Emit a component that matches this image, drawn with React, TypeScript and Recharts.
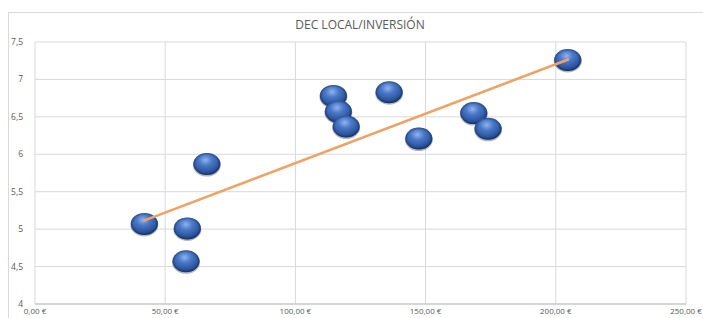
import { CartesianGrid, Scatter, ScatterChart, XAxis, YAxis } from "recharts";

const inversion = [42, 58.5, 58, 66, 114.6, 116.5, 119.5, 136, 147.4, 168.5, 174, 204.6];
const decLocal = [5.07, 5.01, 4.57, 5.87, 6.78, 6.57, 6.37, 6.83, 6.21, 6.55, 6.34, 7.26];
const trendX = [41.6, 205];
const trendY = [5.11, 7.27];
const xTicks = [0, 50, 100, 150, 200, 250];
const yTicks = [4, 4.5, 5, 5.5, 6, 6.5, 7, 7.5];

const points = inversion.map((x, i) => ({ x, y: decLocal[i] }));
const trend = trendX.map((x, i) => ({ x, y: trendY[i] }));

const Sphere = (props: any) => {
  const { cx, cy } = props;
  if (cx == null || cy == null) return null;
  return (
    <g>
      <ellipse cx={cx} cy={cy + 1} rx={14} ry={11.5} fill="#1a2f5c" opacity={0.35} />
      <ellipse cx={cx} cy={cy} rx={13.5} ry={11} fill="url(#sphereFill)" />
      <ellipse cx={cx} cy={cy} rx={13.5} ry={11} fill="url(#sphereRim)" />
    </g>
  );
};

export default function App() {
  return (
    <div
      style={{
        position: "fixed",
        left: 0,
        top: 0,
        width: 703,
        height: 318,
        background: "#fff",
        fontFamily: "'Open Sans', sans-serif",
      }}
    >
      <div
        style={{
          position: "absolute",
          left: 8,
          top: 12,
          width: 720,
          height: 330,
          border: "1px solid #d9d9d9",
        }}
      />
      <div
        style={{
          position: "absolute",
          left: 0,
          top: 16,
          width: 720,
          textAlign: "center",
          fontSize: 12,
          color: "#595959",
        }}
      >
        DEC LOCAL/INVERSIÓN
      </div>
      <div style={{ position: "absolute", left: 0, top: 0 }}>
        <ScatterChart
          width={703}
          height={318}
          margin={{ top: 42, right: 17, bottom: 0, left: 0 }}
        >
          <defs>
            <radialGradient id="sphereFill" cx="45%" cy="32%" r="70%">
              <stop offset="0%" stopColor="#8fb4ee" />
              <stop offset="35%" stopColor="#4a78c8" />
              <stop offset="75%" stopColor="#2d569f" />
              <stop offset="100%" stopColor="#1c386e" />
            </radialGradient>
            <radialGradient id="sphereRim" cx="50%" cy="50%" r="50%">
              <stop offset="80%" stopColor="#000" stopOpacity={0} />
              <stop offset="100%" stopColor="#0f2040" stopOpacity={0.35} />
            </radialGradient>
          </defs>
          <CartesianGrid stroke="#d9d9d9" strokeWidth={1} />
          <XAxis
            type="number"
            dataKey="x"
            domain={[0, 250]}
            ticks={xTicks}
            height={14}
            tickLine={false}
            tickSize={0}
            axisLine={{ stroke: "#bfbfbf" }}
            tick={{ fill: "#595959", fontSize: 8 }}
            tickMargin={4}
            interval={0}
            tickFormatter={(v: number) => `${v.toFixed(2).replace(".", ",")} €`}
          />
          <YAxis
            type="number"
            dataKey="y"
            domain={[4, 7.5]}
            ticks={yTicks}
            width={35}
            tickLine={false}
            axisLine={false}
            tick={{ fill: "#595959", fontSize: 8.5 }}
            tickMargin={6}
            interval={0}
            tickFormatter={(v: number) => String(v).replace(".", ",")}
          />
          <Scatter data={points} shape={Sphere} isAnimationActive={false} />
          <Scatter
            data={trend}
            line={{ stroke: "#f0a264", strokeWidth: 2.5 }}
            shape={() => null}
            isAnimationActive={false}
          />
        </ScatterChart>
      </div>
    </div>
  );
}
